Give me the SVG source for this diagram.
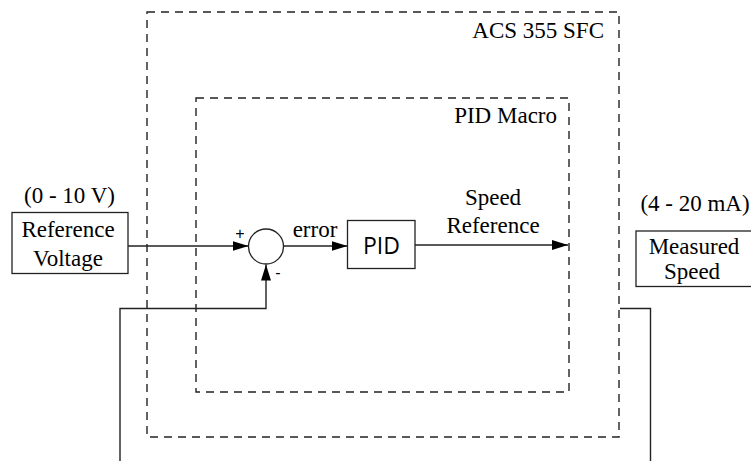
<svg xmlns="http://www.w3.org/2000/svg" width="751" height="461" viewBox="0 0 751 461">
<style>
  .t{font-family:"Liberation Serif","Times New Roman",serif;font-size:23px;fill:#000}
  .box{fill:#fff;stroke:#222;stroke-width:1.3}
  .dash{fill:none;stroke:#222;stroke-width:1.4;stroke-dasharray:8 6}
  .wire{fill:none;stroke:#222;stroke-width:1.4}
  .sign{font-family:"Liberation Sans",Arial,sans-serif;font-size:16px;fill:#000}
</style>
<defs>
  <marker id="arr" markerUnits="userSpaceOnUse" markerWidth="16" markerHeight="10" refX="16" refY="5" orient="auto">
    <path d="M0,0 L16,5 L0,10 z" fill="#000"/>
  </marker>
</defs>
<rect width="751" height="461" fill="#fff"/>

<g id="acs355">
  <rect class="dash" x="147" y="12" width="472" height="425"/>
  <text class="t" x="604" y="38" text-anchor="end">ACS 355 SFC</text>
</g>
<g id="pidmacro">
  <rect class="dash" x="196" y="98" width="373" height="294"/>
  <text class="t" x="557" y="123" text-anchor="end">PID Macro</text>
</g>

<g id="connectors">
  <line class="wire" x1="128" y1="246" x2="248.5" y2="246" marker-end="url(#arr)"/>
  <line class="wire" x1="284" y1="246" x2="347.5" y2="246" marker-end="url(#arr)"/>
  <line class="wire" x1="415" y1="245" x2="568" y2="245" marker-end="url(#arr)"/>
  <polyline class="wire" points="120,461 120,308.5 266,308.5 266,264.5" marker-end="url(#arr)"/>
  <polyline class="wire" points="620,308.5 650.5,308.5 650.5,461"/>
  <text class="t" x="315" y="237" text-anchor="middle">error</text>
  <text class="t" x="493" y="205" text-anchor="middle">Speed</text>
  <text class="t" x="493" y="233" text-anchor="middle">Reference</text>
</g>

<g id="refvoltage">
  <text class="t" x="69.5" y="203" text-anchor="middle">(0 - 10 V)</text>
  <rect class="box" x="12" y="212.5" width="116" height="61"/>
  <text class="t" x="68" y="237" text-anchor="middle">Reference</text>
  <text class="t" x="68" y="266" text-anchor="middle">Voltage</text>
</g>

<g id="sum">
  <circle cx="266" cy="246.5" r="17.5" fill="#fff" stroke="#222" stroke-width="1.3"/>
  <text class="sign" x="240" y="239" text-anchor="middle">+</text>
  <text class="sign" x="278" y="278" text-anchor="middle">-</text>
</g>

<g id="pid">
  <rect class="box" x="347.5" y="220.5" width="67.5" height="48"/>
  <text x="381.5" y="253.5" text-anchor="middle" style="font-family:'Open Sans','Noto Sans',sans-serif;font-size:23px;fill:#000">PID</text>
</g>

<g id="measured">
  <text class="t" x="695" y="211" text-anchor="middle">(4 - 20 mA)</text>
  <rect class="box" x="636" y="231" width="116" height="55.5"/>
  <text class="t" x="694" y="254" text-anchor="middle">Measured</text>
  <text class="t" x="692" y="279" text-anchor="middle">Speed</text>
</g>
</svg>
